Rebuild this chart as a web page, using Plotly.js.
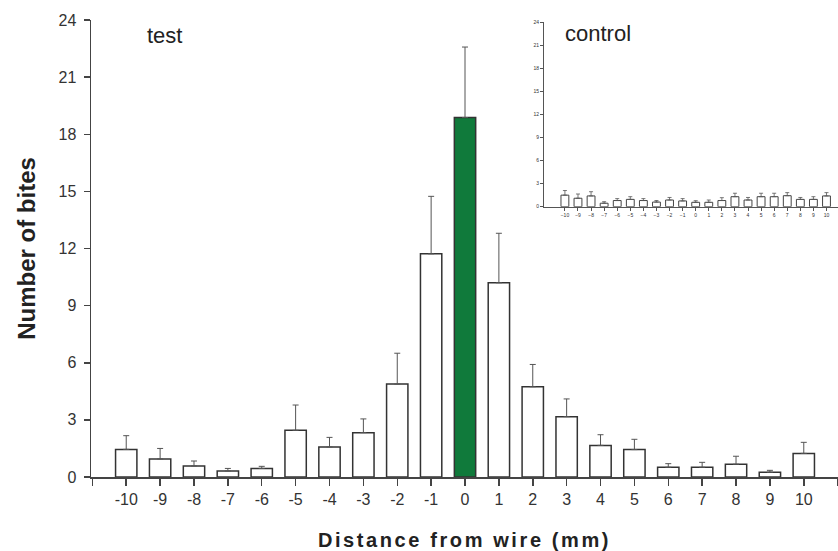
<!DOCTYPE html>
<html>
<head>
<meta charset="utf-8">
<script src="https://cdn.plot.ly/plotly-3.0.0.min.js"></script>
<style>
  html, body { margin: 0; padding: 0; background: #fff; }
  #chart { width: 838px; height: 551px; }
</style>
</head>
<body>
<div id="chart"></div>
<script>
// ---- data ----
const distances = [-10, -9, -8, -7, -6, -5, -4, -3, -2, -1, 0, 1, 2, 3, 4, 5, 6, 7, 8, 9, 10];
const testMeans = [1.45, 0.95, 0.58, 0.32, 0.45, 2.45, 1.58, 2.33, 4.88, 11.72, 18.88, 10.2, 4.74, 3.17, 1.66, 1.44, 0.51, 0.51, 0.67, 0.25, 1.24];
const testErr   = [0.72, 0.55, 0.26, 0.13, 0.11, 1.33, 0.50, 0.72, 1.62, 3.02, 3.70, 2.60, 1.17, 0.93, 0.56, 0.54, 0.19, 0.26, 0.42, 0.10, 0.58];
const controlMeans = [1.5, 1.1, 1.4, 0.45, 0.8, 0.95, 0.8, 0.6, 0.87, 0.75, 0.57, 0.57, 0.8, 1.3, 0.87, 1.3, 1.3, 1.43, 0.95, 0.95, 1.4];
const controlErr   = [0.6, 0.55, 0.55, 0.2, 0.25, 0.35, 0.25, 0.2, 0.33, 0.3, 0.21, 0.3, 0.37, 0.45, 0.33, 0.45, 0.45, 0.4, 0.25, 0.35, 0.43];
const mainTickVals   = [-11, -10, -9, -8, -7, -6, -5, -4, -3, -2, -1, 0, 1, 2, 3, 4, 5, 6, 7, 8, 9, 10, 11];
const mainTickLabels = ['', '-10', '-9', '-8', '-7', '-6', '-5', '-4', '-3', '-2', '-1', '0', '1', '2', '3', '4', '5', '6', '7', '8', '9', '10', ''];
const highlightDistance = 0;

const GREEN = '#107a3b';
const FONT = 'Liberation Sans, Arial, Helvetica, sans-serif';
const zeros = distances.map(() => 0);

const mainTrace = {
  type: 'bar',
  x: distances,
  y: testMeans,
  width: 0.63,
  marker: {
    color: distances.map(d => d === highlightDistance ? GREEN : '#ffffff'),
    line: { color: '#333333', width: 1.5 }
  },
  error_y: {
    type: 'data', symmetric: false, array: testErr, arrayminus: zeros,
    color: '#555555', thickness: 1, width: 3
  },
  hoverinfo: 'x+y',
  showlegend: false
};

const insetTrace = {
  type: 'bar',
  x: distances,
  y: controlMeans,
  xaxis: 'x2',
  yaxis: 'y2',
  width: 0.6,
  marker: { color: '#ffffff', line: { color: '#444444', width: 1 } },
  error_y: {
    type: 'data', symmetric: false, array: controlErr, arrayminus: zeros,
    color: '#555555', thickness: 0.8, width: 2
  },
  hoverinfo: 'x+y',
  showlegend: false
};

const layout = {
  width: 838,
  height: 551,
  margin: { l: 91, r: 0, t: 20, b: 74, pad: 0 },
  paper_bgcolor: '#ffffff',
  plot_bgcolor: 'rgba(0,0,0,0)',
  font: { family: FONT, color: '#333333' },
  bargap: 0,
  xaxis: {
    domain: [0, 1],
    range: [-11.04, 11.01],
    tickmode: 'array',
    tickvals: mainTickVals,
    ticktext: mainTickLabels,
    ticks: 'outside', ticklen: 7, tickwidth: 1.5, tickcolor: '#444444',
    showline: true, linecolor: '#444444', linewidth: 1.5,
    showgrid: false, zeroline: false,
    tickfont: { family: FONT, size: 16, color: '#333333' },
    title: { text: 'Distance from wire (mm)', font: { family: FONT, size: 20, weight: 'bold', color: '#222222' }, standoff: 26 }
  },
  yaxis: {
    domain: [0, 1],
    range: [0, 24],
    tickmode: 'linear', tick0: 0, dtick: 3,
    ticks: 'outside', ticklen: 6, tickwidth: 1.5, tickcolor: '#444444',
    showline: true, linecolor: '#444444', linewidth: 1.5,
    showgrid: false, zeroline: false,
    tickfont: { family: FONT, size: 16, color: '#333333' },
    ticklabelstandoff: 4,
    title: { text: 'Number of bites', font: { family: FONT, size: 24, weight: 'bold', color: '#222222' }, standoff: 16 }
  },
  xaxis2: {
    domain: [0.6064, 1],
    anchor: 'y2',
    range: [-11.6, 10.88],
    tickmode: 'array',
    tickvals: distances,
    ticks: 'outside', ticklen: 3, tickwidth: 1, tickcolor: '#555555',
    showline: true, linecolor: '#555555', linewidth: 1,
    showgrid: false, zeroline: false,
    tickfont: { family: FONT, size: 5, color: '#333333' }
  },
  yaxis2: {
    domain: [0.5915, 0.995],
    anchor: 'x2',
    range: [0, 24],
    tickmode: 'linear', tick0: 0, dtick: 3,
    ticks: 'outside', ticklen: 3, tickwidth: 1, tickcolor: '#555555',
    showline: true, linecolor: '#555555', linewidth: 1,
    showgrid: false, zeroline: false,
    tickfont: { family: FONT, size: 5, color: '#333333' }
  },
  annotations: [
    { text: 'test', xref: 'paper', yref: 'paper', x: 0.0723, y: 0.965, xanchor: 'left', yanchor: 'middle',
      showarrow: false, font: { family: FONT, size: 22, color: '#222222' } },
    { text: 'control', xref: 'paper', yref: 'paper', x: 0.6325, y: 0.97, xanchor: 'left', yanchor: 'middle',
      showarrow: false, font: { family: FONT, size: 22, color: '#222222' } }
  ]
};

Plotly.newPlot('chart', [mainTrace, insetTrace], layout, { displayModeBar: false, staticPlot: true }).then(() => {
  const xt = document.querySelector('.g-xtitle text');
  if (xt) xt.style.letterSpacing = '2.6px';
});
</script>
</body>
</html>
